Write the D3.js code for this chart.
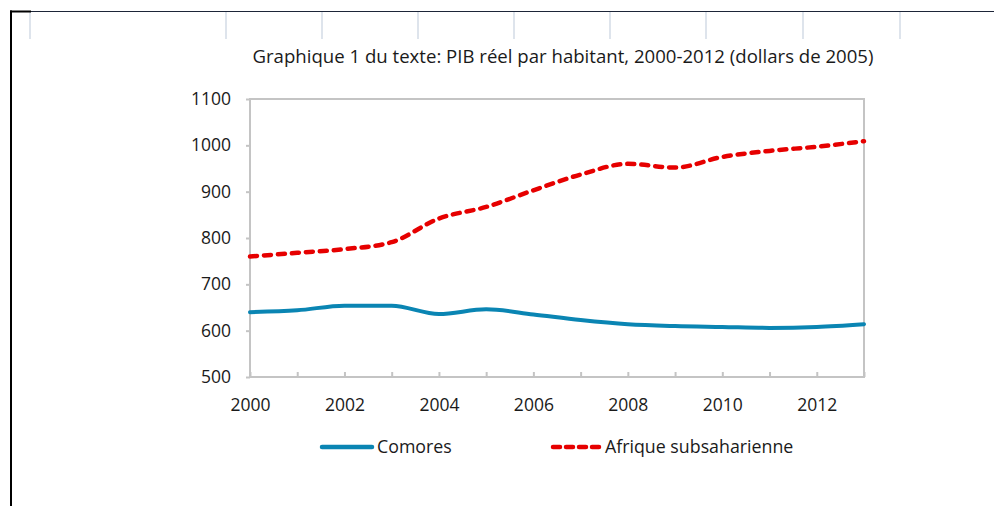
<!DOCTYPE html>
<head>
  <meta charset="utf-8">
  <script src="https://d3js.org/d3.v7.min.js"></script>
  <style>
    body {
      margin: 0;
      background-color: #fff;
    }
    text {
      font-family: "Open Sans", "Noto Sans", sans-serif;
      fill: #1a1a1a;
    }
    .axis path, .axis line {
      stroke: #c4c4c4;
      stroke-width: 2px;
    }
  </style>
</head>

<body>
  <script>
    // Data
    var years = [2000, 2001, 2002, 2003, 2004, 2005, 2006, 2007, 2008, 2009, 2010, 2011, 2012, 2013];
    var comores = [640, 644, 654, 654, 636, 646, 635, 623, 614, 610, 608, 606, 608, 614];
    var afrique = [760, 768, 776, 791, 842, 867, 903, 937, 960, 952, 975, 988, 997, 1009];
    var yTicks = [500, 600, 700, 800, 900, 1000, 1100];
    var xLabels = [2000, 2002, 2004, 2006, 2008, 2010, 2012];
    var seriesNames = ["Comores", "Afrique subsaharienne"];
    var title = "Graphique 1 du texte: PIB réel par habitant, 2000-2012 (dollars de 2005)";

    // Layout
    var width = 994,
        height = 506;
    var plot = { left: 250, right: 864, top: 99, bottom: 377 };

    var svg = d3.select("body").append("svg")
      .attr("width", width)
      .attr("height", height);

    // page frame (cell borders from the spreadsheet)
    var gridX = [30, 226, 322, 418, 514, 610, 706, 803, 900];
    svg.selectAll("line.cell").data(gridX).enter()
      .append("line")
        .attr("class", "cell")
        .attr("x1", function(d) { return d; })
        .attr("x2", function(d) { return d; })
        .attr("y1", 11)
        .attr("y2", 39)
        .style("stroke", "#d3dbe6")
        .style("stroke-width", 1.5);

    svg.append("line")
      .attr("x1", 30).attr("x2", width)
      .attr("y1", 11.5).attr("y2", 11.5)
      .style("stroke", "#1d2538")
      .style("stroke-width", 1);
    svg.append("line")
      .attr("x1", 10).attr("x2", 31)
      .attr("y1", 11.5).attr("y2", 11.5)
      .style("stroke", "#000")
      .style("stroke-width", 2);
    svg.append("line")
      .attr("x1", 11).attr("x2", 11)
      .attr("y1", 10.5).attr("y2", height)
      .style("stroke", "#000")
      .style("stroke-width", 2);

    // Scales
    var x = d3.scaleLinear()
      .domain([2000, 2013])
      .range([plot.left, plot.right]);

    var y = d3.scaleLinear()
      .domain([500, 1100])
      .range([plot.bottom, plot.top]);

    // title
    svg.append("text")
      .attr("x", 563)
      .attr("y", 63)
      .attr("text-anchor", "middle")
      .style("font-size", "18.6px")
      .text(title);

    // frame of the plot area
    svg.append("rect")
      .attr("x", plot.left)
      .attr("y", plot.top)
      .attr("width", plot.right - plot.left)
      .attr("height", plot.bottom - plot.top)
      .style("fill", "none")
      .style("stroke", "#c4c4c4")
      .style("stroke-width", 2);

    // y axis
    var yAxis = svg.append("g")
      .attr("class", "axis")
      .attr("transform", "translate(" + plot.left + ",0)")
      .call(d3.axisLeft(y).tickValues(yTicks).tickSize(4).tickPadding(15).tickFormat(d3.format("d")));
    yAxis.select(".domain").remove();
    yAxis.selectAll("text").style("font-size", "17.5px");

    // x axis, ticks every year pointing up, labels every two years
    var xAxis = svg.append("g")
      .attr("class", "axis")
      .attr("transform", "translate(0," + plot.bottom + ")")
      .call(d3.axisBottom(x).tickValues(years).tickSize(-5).tickPadding(22)
        .tickFormat(function(d) { return xLabels.indexOf(d) >= 0 ? d : ""; }));
    xAxis.select(".domain").remove();
    xAxis.selectAll("text").style("font-size", "17.5px");

    // lines
    var line = d3.line()
      .x(function(d, i) { return x(years[i]); })
      .y(function(d) { return y(d); })
      .curve(d3.curveMonotoneX);

    svg.append("path")
      .datum(comores)
      .attr("d", line)
      .style("fill", "none")
      .style("stroke", "#0a85b3")
      .style("stroke-width", 4)
      .style("stroke-linecap", "round");

    svg.append("path")
      .datum(afrique)
      .attr("d", line)
      .style("fill", "none")
      .style("stroke", "#e60000")
      .style("stroke-width", 4.5)
      .style("stroke-dasharray", "7,7")
      .style("stroke-linecap", "round");

    // legend
    var legend = svg.append("g").attr("class", "legend");
    var legendItems = [
      { name: seriesNames[0], x1: 322, x2: 372, color: "#0a85b3", dash: null },
      { name: seriesNames[1], x1: 553, x2: 600, color: "#e60000", dash: "7,6" }
    ];
    legendItems.forEach(function(d) {
      legend.append("line")
        .attr("x1", d.x1).attr("x2", d.x2)
        .attr("y1", 447).attr("y2", 447)
        .style("stroke", d.color)
        .style("stroke-width", 4.5)
        .style("stroke-linecap", "round")
        .style("stroke-dasharray", d.dash);
      legend.append("text")
        .attr("x", d.x2 + 5)
        .attr("y", 453)
        .style("font-size", "17.8px")
        .text(d.name);
    });
  </script>
</body>
